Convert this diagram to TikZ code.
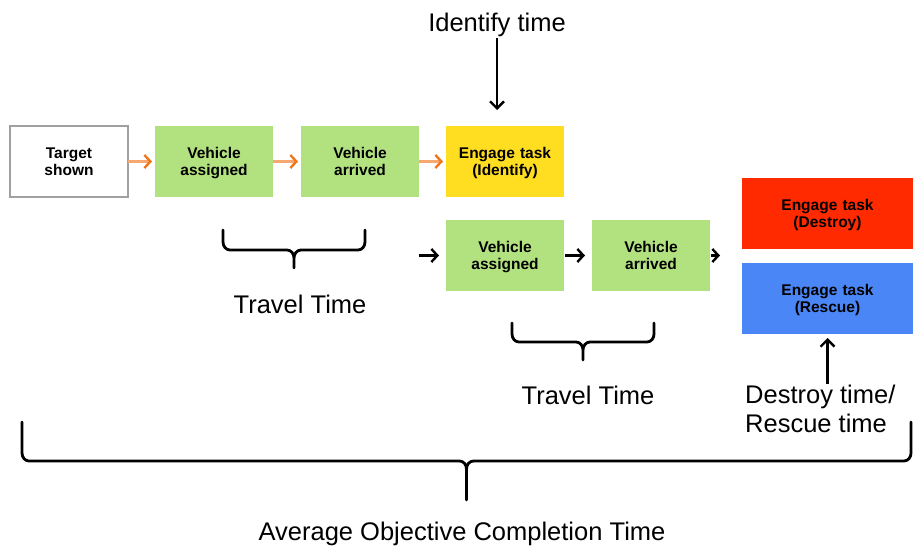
\documentclass[tikz,border=0pt]{standalone}
\usepackage{fontspec}
\setmainfont{Liberation Sans}
\usepackage{tikz}
\usetikzlibrary{arrows.meta,positioning}
\usepackage{xcolor}

\definecolor{boxgreen}{RGB}{178,226,128}
\definecolor{boxyellow}{RGB}{255,222,34}
\definecolor{boxred}{RGB}{255,42,0}
\definecolor{boxblue}{RGB}{74,134,245}
\definecolor{boxgray}{RGB}{160,160,160}
\definecolor{floworange}{RGB}{246,168,112}
\definecolor{tiporange}{RGB}{240,118,28}

% curly span under a stretch of the timeline:
% left x, right x, top of legs, level of bar, bottom of tip
\newcommand{\spanbrace}[5]{%
  \pgfmathsetmacro\bmid{(#1+#2)/2}%
  \pgfmathsetmacro\bleft{#1+7}%
  \pgfmathsetmacro\bright{#2-7}%
  \pgfmathsetmacro\bmidl{\bmid-7}%
  \pgfmathsetmacro\bmidr{\bmid+7}%
  \pgfmathsetmacro\bknee{#4-8}%
  \pgfmathsetmacro\bcusp{#4+8}%
  \draw[brace] (#1,#3) -- (#1,\bknee) to[out=-90,in=180] (\bleft,#4)
    -- (\bmidl,#4) to[out=0,in=90] (\bmid,\bcusp) -- (\bmid,#5)
    (\bmid,\bcusp) to[out=90,in=180] (\bmidr,#4)
    -- (\bright,#4) to[out=0,in=-90] (#2,\bknee) -- (#2,#3);}

\begin{document}
\begin{tikzpicture}[x=1pt,y=-1pt]
	\tikzstyle{task}
	  =[rectangle, fill=boxgreen, minimum width=118pt, minimum height=71pt,
	  text width=110pt, align=center, outer sep=0pt,
	  execute at begin node={\rule{0pt}{16pt}}, execute at end node=\strut,
	  font=\bfseries\fontsize{15.5}{17}\selectfont]
	\tikzstyle{task-wide}
	  =[task, minimum width=171pt, text width=160pt]
	\tikzstyle{timetext}
	  =[inner sep=0pt, font=\fontsize{25.5}{29}\selectfont]
	\tikzstyle{flow}
	  =[draw=floworange, line width=2.4pt, shorten >=3pt,
	  -{Straight Barb[color=tiporange,length=6pt,width=13pt]}]
	\tikzstyle{next}
	  =[draw=black, line width=2.4pt, shorten <=1pt, shorten >=7pt,
	  -{Straight Barb[length=6pt,width=13pt]}]
	\tikzstyle{pointer}
	  =[draw=black, line width=2.4pt,
	  -{Straight Barb[length=7pt,width=14pt]}]
	\tikzstyle{brace}
	  =[draw=black, line width=2.8pt, line cap=round, line join=round]

	\useasboundingbox (0,0) rectangle (913,546);

	% first run: target is identified
	\node[task, fill=white, draw=boxgray, line width=1.5pt] (target)
	  at (69,161.5) {Target\\shown};
	\node[task] (assigned)
	  [right=27pt of target] {Vehicle\\assigned};
	\node[task] (arrived)
	  [right=28pt of assigned] {Vehicle\\arrived};
	\node[task, fill=boxyellow] (identify)
	  [right=27pt of arrived] {Engage task\\(Identify)};

	% second run: destroy or rescue
	\node[task] (assigned2)
	  [below=23pt of identify] {Vehicle\\assigned};
	\node[task] (arrived2)
	  [right=28pt of assigned2] {Vehicle\\arrived};
	\node[task-wide, fill=boxred] (destroy)
	  at (827.5,213.5) {Engage task\\(Destroy)};
	\node[task-wide, fill=boxblue] (rescue)
	  [below=14pt of destroy] {Engage task\\(Rescue)};

	\draw[flow] (target) -- (assigned);
	\draw[flow] (assigned) -- (arrived);
	\draw[flow] (arrived) -- (identify);

	\coordinate (feed) at (418,255.5);
	\coordinate (split) at (727,255.5);
	\draw[next] (feed) -- (assigned2);
	\draw[next] (assigned2) -- (arrived2);
	\draw[next] (arrived2) -- (split);

	% time labels
	\node[timetext, anchor=base] (idtime)
	  at (497,31) {Identify time};
	\draw[pointer, shorten <=2pt, shorten >=16pt]
	  (idtime.south) -- (idtime.south |- identify.north);

	\node[timetext, align=left, anchor=west] (endtime)
	  at (745,409) {Destroy time/\\Rescue time};
	\draw[pointer, shorten <=1pt, shorten >=4pt]
	  (rescue.south |- endtime.north) -- (rescue.south);

	\spanbrace{223}{365}{230}{250}{268}
	\node[timetext, anchor=base] (travel)
	  at (300,313) {Travel Time};

	\spanbrace{512}{654}{323}{342}{360}
	\node[timetext, anchor=base] (travel2)
	  at (588,404) {Travel Time};

	\spanbrace{22}{911}{422}{461}{500}
	\node[timetext, anchor=base] (average)
	  at (462,540) {Average Objective Completion Time};
\end{tikzpicture}
\end{document}
